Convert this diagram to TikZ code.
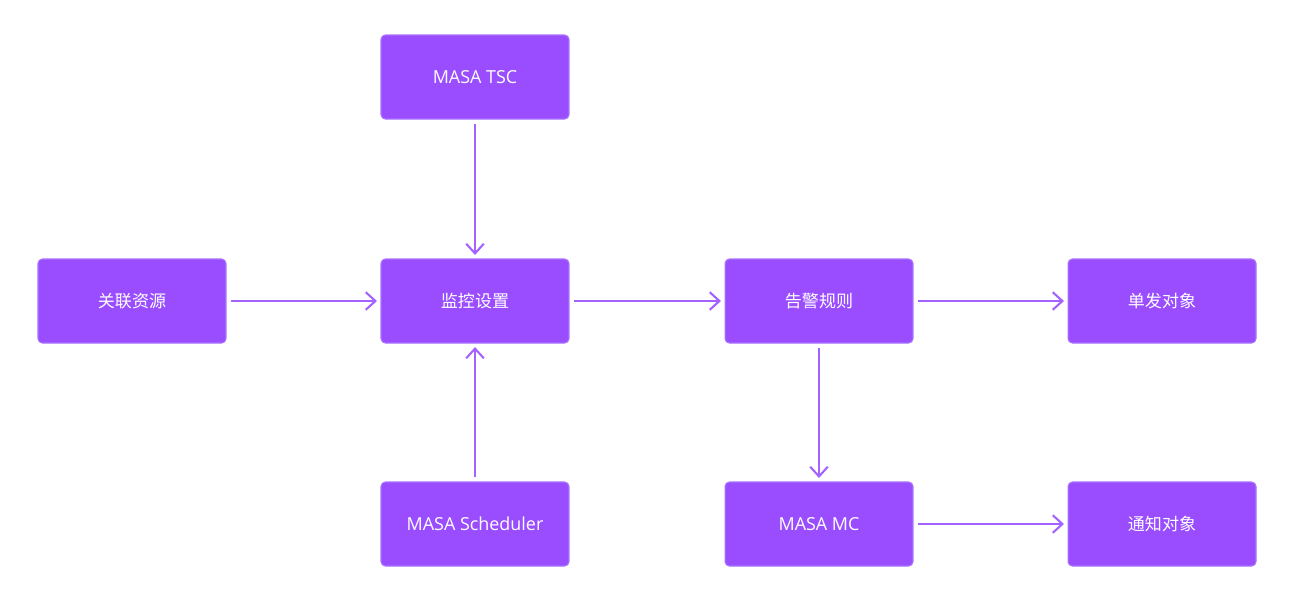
\documentclass[tikz,border=0pt]{standalone}
\usepackage{fontspec}
\setmainfont{Open Sans}
\newfontfamily\cjk{Noto Sans CJK SC}
\usetikzlibrary{arrows.meta}
\definecolor{boxfill}{HTML}{994DFF}
\definecolor{boxline}{HTML}{A872FF}
\definecolor{arrowline}{HTML}{A462FF}
\newcommand{\zh}[1]{{\cjk\fontsize{9.7}{11}\selectfont #1}}

\begin{document}
\begin{tikzpicture}[x=0.02cm,y=-0.02cm,
    box/.style={draw=boxline, line width=0.6pt, fill=boxfill, rounded corners=2.5pt,
        minimum width=3.76cm, minimum height=1.68cm, inner sep=0pt,
        text=white, font=\fontsize{10.2}{12}\selectfont},
    link/.style={draw=arrowline, line width=1.2pt,
        -{Straight Barb[length=5.5pt,width=10pt,line width=1.2pt]},
        shorten <=2.5pt, shorten >=2pt}]
        % canvas
        \useasboundingbox (0,0) rectangle (1300,600);

        % boxes
        \node[box] (tsc) at (475,77) {MASA TSC};
        \node[box] (res) at (132,301) {\zh{关联资源}};
        \node[box] (mon) at (475,301) {\zh{监控设置}};
        \node[box] (rule) at (819,301) {\zh{告警规则}};
        \node[box] (single) at (1162,301) {\zh{单发对象}};
        \node[box] (sched) at (475,524) {MASA Scheduler};
        \node[box] (mc) at (819,524) {MASA MC};
        \node[box] (notify) at (1162,524) {\zh{通知对象}};

        % arrows
        \draw[link] (tsc) -- (mon);
        \draw[link] (res) -- (mon);
        \draw[link] (sched) -- (mon);
        \draw[link] (mon) -- (rule);
        \draw[link] (rule) -- (single);
        \draw[link] (rule) -- (mc);
        \draw[link] (mc) -- (notify);

    \end{tikzpicture}
\end{document}
